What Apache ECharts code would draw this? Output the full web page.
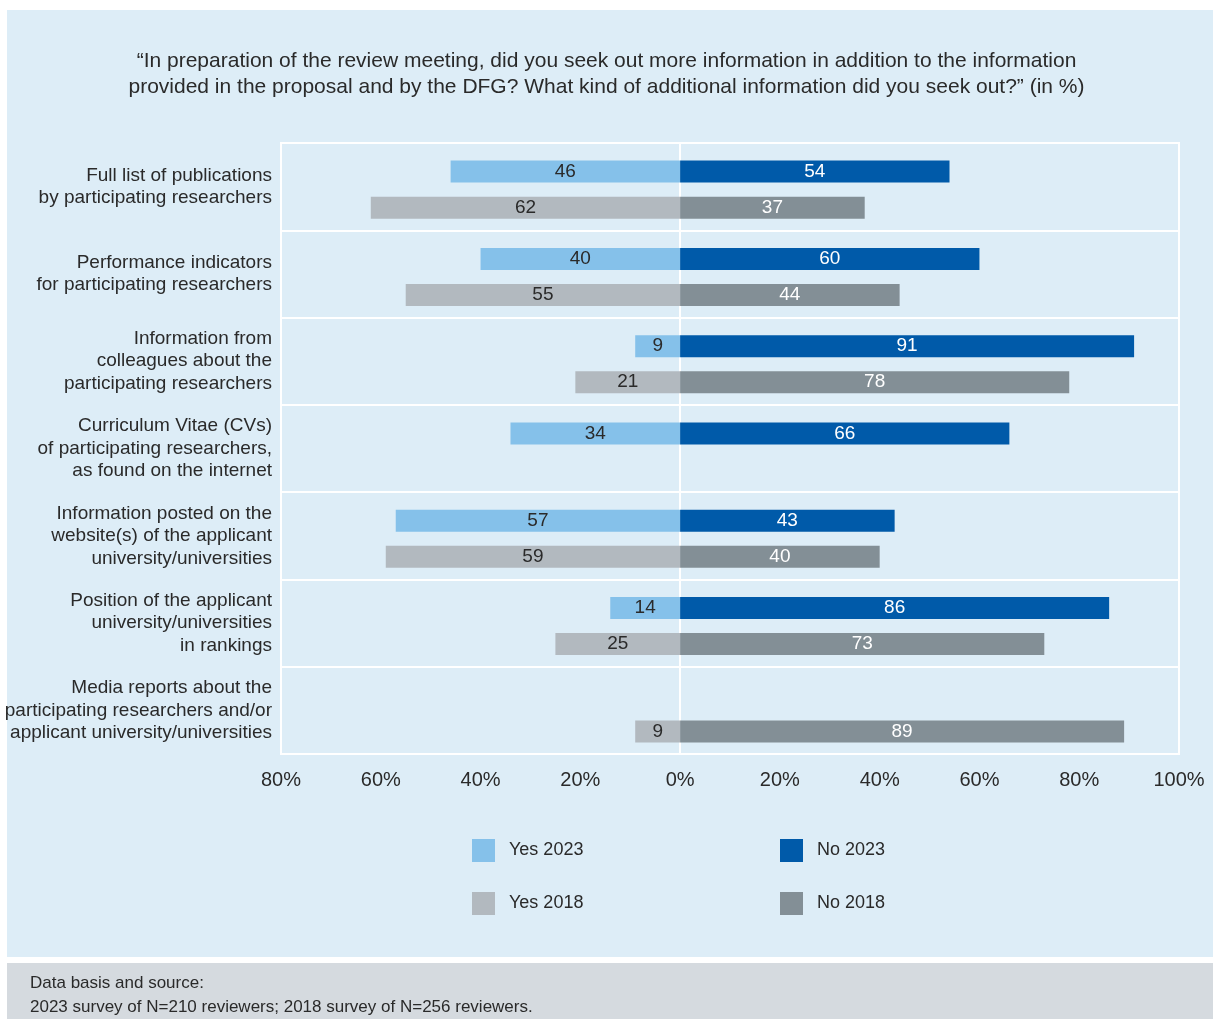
<!DOCTYPE html>
<html><head><meta charset="utf-8">
<script src="https://cdn.jsdelivr.net/npm/echarts@6/dist/echarts.min.js"></script>
<style>html,body{margin:0;padding:0;background:#fff}#c{width:1213px;height:1019px}</style>
</head><body><div id="c"></div>
<script>
const categories = [
  "Full list of publications\nby participating researchers",
  "Performance indicators\nfor participating researchers",
  "Information from\ncolleagues about the\nparticipating researchers",
  "Curriculum Vitae (CVs)\nof participating researchers,\nas found on the internet",
  "Information posted on the\nwebsite(s) of the applicant\nuniversity/universities",
  "Position of the applicant\nuniversity/universities\nin rankings",
  "Media reports about the\nparticipating researchers and/or\napplicant university/universities"
];
const yes2023 = [46, 40, 9, 34, 57, 14, null];
const no2023  = [54, 60, 91, 66, 43, 86, null];
const yes2018 = [62, 55, 21, null, 59, 25, 9];
const no2018  = [37, 44, 78, null, 40, 73, 89];
const tickMin = -80, tickMax = 100, tickStep = 20;
const titleText = "\u201cIn preparation of the review meeting, did you seek out more information in addition to the information\nprovided in the proposal and by the DFG? What kind of additional information did you seek out?\u201d (in %)";
const sourceLines = ["Data basis and source:", "2023 survey of N=210 reviewers; 2018 survey of N=256 reviewers."];

const FONT = '"Liberation Sans", Arial, sans-serif';
const C = {y23:'#85c1ea', n23:'#005aa9', y18:'#b2b9bf', n18:'#838f96'};
const TXT = '#2a2a2a';

function neg(a){ return a.map(v => v == null ? '-' : -v); }
function pos(a){ return a.map(v => v == null ? '-' : v); }

function bar(name, data, stack, color, labelColor){
  return {
    name, type:'bar', stack, data, barWidth:22, barGap:'64%',
    xAxisIndex:1, yAxisIndex:1,
    itemStyle:{color},
    label:{show:true, position:'inside', color:labelColor, fontFamily:FONT, fontSize:19,
      formatter: p => Math.abs(p.value)},
    emphasis:{disabled:true}
  };
}

function legendOne(name, left, top){
  return {data:[name], left, top, padding:0, itemWidth:23, itemHeight:23, itemGap:0,
    icon:'rect', orient:'horizontal', selectedMode:false,
    textStyle:{fontFamily:FONT, fontSize:18, color:TXT, padding:[0,0,0,9]}};
}

const chart = echarts.init(document.getElementById('c'), null, {renderer:'canvas'});
chart.setOption({
  animation:false,
  backgroundColor:'#ffffff',
  graphic:[
    {type:'rect', z:-10, silent:true, shape:{x:7, y:10, width:1206, height:947}, style:{fill:'#ddedf7'}},
    {type:'rect', z:-10, silent:true, shape:{x:7, y:963, width:1206, height:56}, style:{fill:'#d5dadf'}},
    {type:'text', left:30, top:975, style:{text:sourceLines[0], font:'17px '+FONT, fill:TXT}},
    {type:'text', left:30, top:999, style:{text:sourceLines[1], font:'17px '+FONT, fill:TXT}}
  ],
  title:{text:titleText, left:'center', top:43,
    textStyle:{fontFamily:FONT, fontSize:21, fontWeight:'normal', color:TXT, lineHeight:26}},
  legend:[
    legendOne('Yes 2023', 472, 839),
    legendOne('No 2023', 780, 839),
    legendOne('Yes 2018', 472, 892),
    legendOne('No 2018', 780, 892)
  ],
  grid:[
    {left:281, right:34, top:143, bottom:1019-754, outerBoundsMode:'none', containLabel:false,
      show:true, borderColor:'#ffffff', borderWidth:2, backgroundColor:'transparent'},
    {left:281, right:34, top:146, bottom:1019-757, outerBoundsMode:'none', containLabel:false}
  ],
  xAxis:[
    {gridIndex:0, type:'value', min:tickMin, max:tickMax, interval:tickStep,
      axisLine:{show:false}, axisTick:{show:false}, splitLine:{show:false},
      axisLabel:{fontFamily:FONT, fontSize:20, color:TXT, margin:16, formatter:v => Math.abs(v)+'%'}},
    {gridIndex:1, type:'value', min:tickMin, max:tickMax, interval:tickStep, show:false}
  ],
  yAxis:[
    {gridIndex:0, type:'category', data:categories, inverse:true,
      axisLine:{show:true, onZero:true, lineStyle:{color:'#ffffff', width:2}},
      axisTick:{show:false},
      splitLine:{show:true, lineStyle:{color:'#ffffff', width:2}},
      axisLabel:{fontFamily:FONT, fontSize:19, color:TXT, lineHeight:22.5, margin:9, align:'right'}},
    {gridIndex:1, type:'category', data:categories, inverse:true, show:false}
  ],
  series:[
    bar('Yes 2023', neg(yes2023), 'a', C.y23, TXT),
    bar('No 2023', pos(no2023), 'a', C.n23, '#ffffff'),
    bar('Yes 2018', neg(yes2018), 'b', C.y18, TXT),
    bar('No 2018', pos(no2018), 'b', C.n18, '#ffffff')
  ]
});
</script></body></html>
